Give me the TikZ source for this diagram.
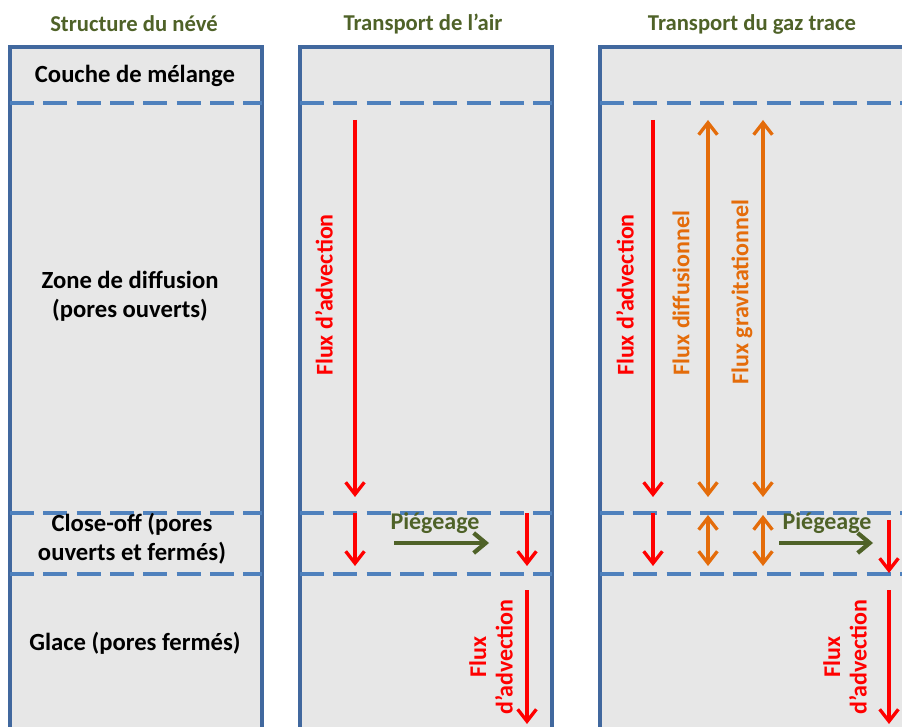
\documentclass[tikz,border=0pt]{standalone}
\usepackage{fontspec}
\setmainfont{Carlito}
\usetikzlibrary{arrows.meta,positioning}
\definecolor{olivetitle}{HTML}{4F6228}
\definecolor{firnblue}{HTML}{41689E}
\definecolor{layerblue}{HTML}{4F81BD}
\definecolor{firngray}{HTML}{E7E7E7}
\definecolor{advred}{HTML}{FF0000}
\definecolor{difforange}{HTML}{E46C0A}
\tikzset{
  colbox/.style={draw=firnblue, fill=firngray, line width=2.3pt},
  layerline/.style={draw=layerblue, line width=2.3pt, dash pattern=on 18pt off 7pt},
  coltitle/.style={font=\fontsize{17}{20}\selectfont\bfseries, text=olivetitle},
  layertext/.style={font=\fontsize{18.5}{22}\selectfont\bfseries, align=center, text=black},
  fluxlabel/.style={font=\fontsize{18}{20}\selectfont\bfseries, rotate=90, text=#1, align=center},
  fluxlabel/.default=advred,
  advarrow/.style={draw=advred, line width=2.5pt,
    -{Straight Barb[length=9pt,width=14pt]}},
  diffarrow/.style={draw=difforange, line width=2.5pt,
    {Straight Barb[length=9pt,width=14pt]}-{Straight Barb[length=9pt,width=14pt]}},
  traparrow/.style={draw=olivetitle, line width=3.2pt,
    -{Straight Barb[length=9pt,width=15pt]}},
  traplabel/.style={font=\fontsize{18}{20}\selectfont\bfseries, text=olivetitle},
}
\begin{document}
\begin{tikzpicture}[x=0.75pt, y=-0.75pt]
  \useasboundingbox (0,0) rectangle (902,727);
  \clip (0,0) rectangle (902,727);

  % columns and layer limits
  \foreach \xa/\xb in {10/262, 300/552, 600/960} {
    \draw[colbox] (\xa,47) rectangle (\xb,770);
    \foreach \yy in {103,513,574}
      \draw[layerline] (\xa,\yy) -- (\xb,\yy);
  }

  % titles
  \node[coltitle] (tnev) at (134,24) {Structure du névé};
  \node[coltitle] (tair) at (423,24) {Transport de l’air};
  \node[coltitle] (tgaz) at (752,24) {Transport du gaz trace};

  % firn structure
  \node[layertext] (melange) at (135,76) {Couche de mélange};
  \node[layertext] (diffzone) at (130,296) {Zone de diffusion\\(pores ouverts)};
  \node[layertext] (closeoff) at (132,539) {Close-off (pores\\ouverts et fermés)};
  \node[layertext] (glace) at (135,643) {Glace (pores fermés)};

  % transport de l'air
  \coordinate (a1s) at (355,120);  \coordinate (a1e) at (355,497);
  \coordinate (a2s) at (355,513);  \coordinate (a2e) at (355,566);
  \coordinate (a3s) at (527,513);  \coordinate (a3e) at (527,566);
  \coordinate (a4s) at (527,590);  \coordinate (a4e) at (527,724);
  \coordinate (p1s) at (394,543);  \coordinate (p1e) at (489,543);
  \draw[advarrow] (a1s) -- (a1e);
  \draw[advarrow] (a2s) -- (a2e);
  \draw[advarrow] (a3s) -- (a3e);
  \draw[advarrow] (a4s) -- (a4e);
  \draw[traparrow] (p1s) -- (p1e);
  \node[fluxlabel] (adv1) at (324,295) {Flux d’advection};
  \node[fluxlabel] (adv2) at (491,657) {Flux\\d’advection};
  \node[traplabel] (trap1) at (435,523) {Piégeage};

  % transport du gaz trace
  \coordinate (g1s) at (653,120);  \coordinate (g1e) at (653,497);
  \coordinate (d1s) at (708,120);  \coordinate (d1e) at (708,497);
  \coordinate (v1s) at (763,120);  \coordinate (v1e) at (763,497);
  \coordinate (g2s) at (653,513);  \coordinate (g2e) at (653,566);
  \coordinate (d2s) at (708,515);  \coordinate (d2e) at (708,566);
  \coordinate (v2s) at (763,515);  \coordinate (v2e) at (763,566);
  \coordinate (g3s) at (889,520);  \coordinate (g3e) at (889,573);
  \coordinate (g4s) at (889,590);  \coordinate (g4e) at (889,724);
  \coordinate (p2s) at (779,543);  \coordinate (p2e) at (873,543);
  \draw[advarrow] (g1s) -- (g1e);
  \draw[diffarrow] (d1s) -- (d1e);
  \draw[diffarrow] (v1s) -- (v1e);
  \draw[advarrow] (g2s) -- (g2e);
  \draw[diffarrow] (d2s) -- (d2e);
  \draw[diffarrow] (v2s) -- (v2e);
  \draw[advarrow] (g3s) -- (g3e);
  \draw[advarrow] (g4s) -- (g4e);
  \draw[traparrow] (p2s) -- (p2e);
  \node[fluxlabel] (adv3) at (625,295) {Flux d’advection};
  \node[fluxlabel=difforange] (diffl) at (681,293) {Flux diffusionnel};
  \node[fluxlabel=difforange] (gravl) at (742,292) {Flux gravitationnel};
  \node[fluxlabel] (adv4) at (845,657) {Flux\\d’advection};
  \node[traplabel] (trap2) at (827,523) {Piégeage};
\end{tikzpicture}
\end{document}
